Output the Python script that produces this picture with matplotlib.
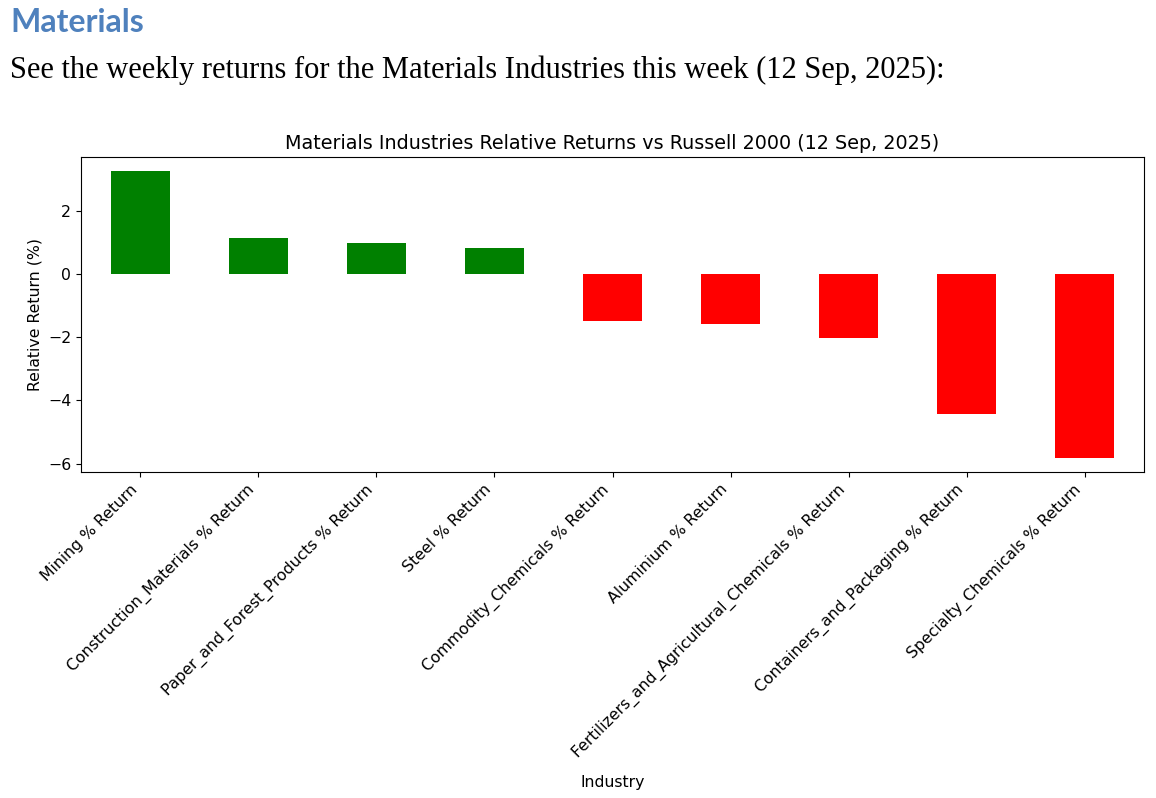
import matplotlib.pyplot as plt
import numpy as np

industries = [
    "Mining % Return",
    "Construction_Materials % Return",
    "Paper_and_Forest_Products % Return",
    "Steel % Return",
    "Commodity_Chemicals % Return",
    "Aluminium % Return",
    "Fertilizers_and_Agricultural_Chemicals % Return",
    "Containers_and_Packaging % Return",
    "Specialty_Chemicals % Return",
]
returns = [3.25, 1.14, 0.98, 0.83, -1.49, -1.59, -2.03, -4.44, -5.81]

fig = plt.figure(figsize=(11.56, 7.98), dpi=100)

# document-style header above the chart
fig.text(10 / 1156, 1 - 22 / 798, "Materials", fontsize=23, fontweight="bold",
         color="#4f81bd", family="Lato", va="center")
fig.text(10 / 1156, 1 - 70 / 798,
         "See the weekly returns for the Materials Industries this week (12 Sep, 2025):",
         fontsize=22, family="Liberation Serif", va="center")

ax = fig.add_axes([81 / 1156, 1 - 472 / 798, (1144 - 81) / 1156, (472 - 157) / 798])
colors = ["green" if r > 0 else "red" for r in returns]
x = np.arange(len(industries))
ax.bar(x, returns, width=0.5, color=colors)
ax.set_xlim(-0.5, len(industries) - 0.5)
ax.set_xticks(x)
ax.set_xticklabels(industries, rotation=45, ha="right", fontsize=11.3)
ax.tick_params(axis="y", labelsize=11.3)
ax.set_title("Materials Industries Relative Returns vs Russell 2000 (12 Sep, 2025)", fontsize=13.8)
ax.set_ylabel("Relative Return (%)", fontsize=11.3)
ax.set_xlabel("Industry", fontsize=11.3, labelpad=10)

fig.savefig("out.png", dpi=100)
